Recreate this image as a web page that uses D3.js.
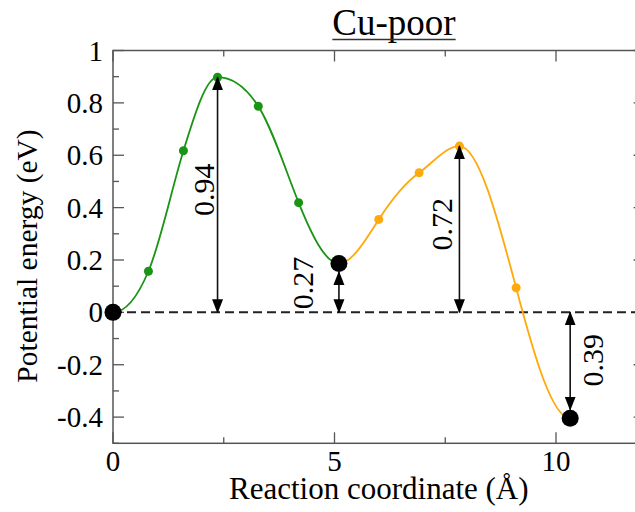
<!DOCTYPE html>
<html>
<head>
<meta charset="utf-8">
<script src="https://cdn.jsdelivr.net/npm/d3@7"></script>
</head>
<body style="margin:0">
<div id="chart"></div>
<script>
// green path: initial -> intermediate (x, energy, slope)
const greenX = [0, 0.80, 1.59, 2.36, 3.28, 4.19, 5.10];
const greenY = [0, 0.157, 0.617, 0.898, 0.787, 0.419, 0.187];
const greenSlope = [0, 0.40, 0.55, 0, -0.26, -0.42, 0];
// orange path: intermediate -> final
const orangeX = [5.10, 6.00, 6.91, 7.82, 9.10, 10.32];
const orangeY = [0.187, 0.355, 0.533, 0.635, 0.094, -0.404];
const orangeSlope = [0, 0.26, 0.12, 0, -0.64, 0];
// stable states (big black dots)
const stateX = [0, 5.10, 10.32];
const stateY = [0, 0.187, -0.404];
// energy barrier arrows
const barrierX = [2.36, 5.10, 7.82, 10.32];
const barrierY = [0.898, 0.187, 0.635, -0.404];
const barrierLabels = ['0.94', '0.27', '0.72', '0.39'];
const xTicks = [0, 5, 10];
const yTicks = [-0.4, -0.2, 0, 0.2, 0.4, 0.6, 0.8, 1];

const W = 635, H = 512;
const mLeft = 113, mTop = 50.5, mBottom = 443.3, mRight = 644.6;
const fontName = '"Liberation Serif", monospace';

const svg = d3.select('#chart').append('svg')
  .attr('width', W)
  .attr('height', H);

const x = d3.scaleLinear().domain([0, 12]).range([mLeft, mRight]);
const y = d3.scaleLinear().domain([-0.5, 1]).range([mBottom, mTop]);

const axisColor = '#555';

function label(sel, size) {
  return sel.attr('font-family', fontName)
    .style('font-family', fontName, 'important')
    .attr('font-size', size).attr('fill', '#000');
}

// frame
svg.append('rect')
  .attr('x', mLeft).attr('y', mTop)
  .attr('width', mRight - mLeft).attr('height', mBottom - mTop)
  .attr('fill', 'none').attr('stroke', axisColor).attr('stroke-width', 1.5);

// ticks (inward), major and minor
const xMinor = d3.range(0, 12.01, 2.5);
const yMinor = d3.range(-0.5, 1.001, 0.1);
const ticks = svg.append('g').attr('stroke', axisColor).attr('stroke-width', 1.3);
xMinor.forEach(v => {
  const len = xTicks.includes(v) ? 11 : 6;
  ticks.append('line').attr('x1', x(v)).attr('x2', x(v)).attr('y1', mBottom).attr('y2', mBottom - len);
  ticks.append('line').attr('x1', x(v)).attr('x2', x(v)).attr('y1', mTop).attr('y2', mTop + len);
});
yMinor.forEach(v => {
  const major = yTicks.some(t => Math.abs(t - v) < 1e-6);
  const len = major ? 11 : 6;
  ticks.append('line').attr('y1', y(v)).attr('y2', y(v)).attr('x1', mLeft).attr('x2', mLeft + len);
  ticks.append('line').attr('y1', y(v)).attr('y2', y(v)).attr('x1', mRight).attr('x2', mRight - len);
});

// tick labels
svg.append('g').selectAll('text').data(xTicks).join('text')
  .call(label, 29)
  .attr('x', d => x(d)).attr('y', 471)
  .attr('text-anchor', 'middle')
  .text(d => d);

svg.append('g').selectAll('text').data(yTicks).join('text')
  .call(label, 29)
  .attr('x', 103).attr('y', d => y(d) + 10)
  .attr('text-anchor', 'end')
  .text(d => String(Math.round(d * 10) / 10));

// axis titles
svg.append('text')
  .call(label, 31)
  .attr('x', (mLeft + mRight) / 2).attr('y', 499)
  .attr('text-anchor', 'middle')
  .text('Reaction coordinate (Å)');

svg.append('text')
  .call(label, 29.5)
  .attr('transform', 'translate(37,256) rotate(-90)')
  .attr('text-anchor', 'middle')
  .text('Potential energy (eV)');

// title, underlined
const title = svg.append('text')
  .call(label, 37)
  .attr('x', 394).attr('y', 35)
  .attr('text-anchor', 'middle')
  .text('Cu-poor');
const tw = title.node().getComputedTextLength();
svg.append('line')
  .attr('x1', 394 - tw / 2).attr('x2', 394 + tw / 2)
  .attr('y1', 39.5).attr('y2', 39.5)
  .attr('stroke', '#333').attr('stroke-width', 1.6);

// zero reference line
svg.append('line')
  .attr('x1', x(0)).attr('x2', W)
  .attr('y1', y(0)).attr('y2', y(0))
  .attr('stroke', '#222').attr('stroke-width', 2)
  .attr('stroke-dasharray', '9,5');

// hermite spline through the images, using slopes at each image
function splinePath(xs, ys, ms) {
  const p = d3.path();
  p.moveTo(x(xs[0]), y(ys[0]));
  for (let i = 0; i < xs.length - 1; i++) {
    const h = (xs[i + 1] - xs[i]) / 3;
    p.bezierCurveTo(
      x(xs[i] + h), y(ys[i] + ms[i] * h),
      x(xs[i + 1] - h), y(ys[i + 1] - ms[i + 1] * h),
      x(xs[i + 1]), y(ys[i + 1]));
  }
  return p.toString();
}

const green = '#1a9414', orange = '#ffa90a';

svg.append('path')
  .attr('d', splinePath(greenX, greenY, greenSlope))
  .attr('fill', 'none').attr('stroke', green).attr('stroke-width', 1.8);
svg.append('path')
  .attr('d', splinePath(orangeX, orangeY, orangeSlope))
  .attr('fill', 'none').attr('stroke', orange).attr('stroke-width', 1.8);

svg.append('g').selectAll('circle').data(d3.zip(greenX, greenY).slice(1, -1)).join('circle')
  .attr('cx', d => x(d[0])).attr('cy', d => y(d[1])).attr('r', 4.5).attr('fill', green);
svg.append('g').selectAll('circle').data(d3.zip(orangeX, orangeY).slice(1, -1)).join('circle')
  .attr('cx', d => x(d[0])).attr('cy', d => y(d[1])).attr('r', 4.5).attr('fill', orange);

// arrows
const defs = svg.append('defs');
defs.append('marker')
  .attr('id', 'head')
  .attr('markerUnits', 'userSpaceOnUse')
  .attr('viewBox', '0 -6 14 12')
  .attr('refX', 13).attr('refY', 0)
  .attr('markerWidth', 14).attr('markerHeight', 12)
  .attr('orient', 'auto-start-reverse')
  .append('path').attr('d', 'M0,-5.5L14,0L0,5.5Z').attr('fill', '#000');

const bigR = 8.5;
const labelDx = [-4, -26, -7, 33];
barrierX.forEach((bx, i) => {
  const isState = stateX.includes(bx);
  const y0 = y(0), y1 = y(barrierY[i]);
  const dir = y1 < y0 ? 1 : -1;
  const tip = isState ? y1 + dir * bigR : y1;
  svg.append('line')
    .attr('x1', x(bx)).attr('x2', x(bx))
    .attr('y1', y0).attr('y2', tip)
    .attr('stroke', '#111').attr('stroke-width', 1.6)
    .attr('marker-start', 'url(#head)')
    .attr('marker-end', 'url(#head)');
  const cy = (y0 + y1) / 2 - 5;
  svg.append('text')
    .call(label, 30)
    .attr('transform', `translate(${x(bx) + labelDx[i]},${cy}) rotate(-90)`)
    .attr('text-anchor', 'middle')
    .text(barrierLabels[i]);
});

// stable states
svg.append('g').selectAll('circle').data(d3.zip(stateX, stateY)).join('circle')
  .attr('cx', d => x(d[0])).attr('cy', d => y(d[1])).attr('r', bigR).attr('fill', '#000');
</script>
</body>
</html>
